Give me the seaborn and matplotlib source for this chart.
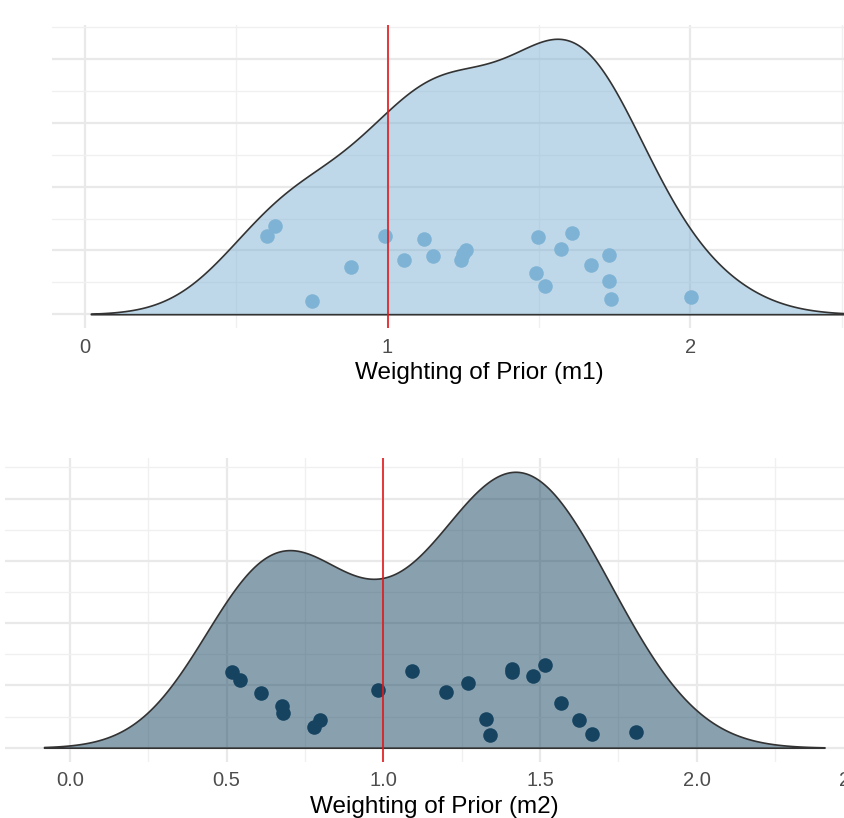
import numpy as np
import pandas as pd
import matplotlib
matplotlib.use("Agg")
import matplotlib.pyplot as plt
import seaborn as sns
from matplotlib.ticker import MultipleLocator

# ---- data ----
m1_weight = [0.602, 0.629, 0.749, 0.878, 0.993, 1.056, 1.121, 1.151, 1.243, 1.248, 1.259,
             1.496, 1.489, 1.519, 1.572, 1.608, 1.673, 1.732, 1.732, 1.738, 2.004]
m1_jitter = [0.246, 0.276, 0.042, 0.149, 0.246, 0.170, 0.237, 0.182, 0.171, 0.190, 0.203,
             0.242, 0.129, 0.089, 0.206, 0.256, 0.154, 0.187, 0.105, 0.047, 0.053]
m2_weight = [0.517, 0.541, 0.608, 0.678, 0.680, 0.780, 0.799, 0.983, 1.090, 1.201, 1.269,
             1.327, 1.341, 1.412, 1.412, 1.477, 1.516, 1.566, 1.623, 1.665, 1.808]
m2_jitter = [0.242, 0.216, 0.176, 0.134, 0.110, 0.068, 0.089, 0.184, 0.247, 0.180, 0.209,
             0.091, 0.041, 0.254, 0.242, 0.231, 0.265, 0.142, 0.089, 0.044, 0.051]
reference_value = 1.0
axis_titles = ["Weighting of Prior (m1)", "Weighting of Prior (m2)"]
panel_colors = ["#7fb3d5", "#154360"]
bandwidths = [0.194, 0.200]
x_major = [1.0, 0.5]

sns.set_theme(style="white")
plt.rcParams['font.family'] = ['Liberation Sans', 'DejaVu Sans']

fig = plt.figure(figsize=(8.45, 8.18), dpi=100)
ax1 = fig.add_axes([52 / 845, 1 - 328 / 818, (906.5 - 52) / 845, 303 / 818])
ax2 = fig.add_axes([5 / 845, 1 - 761.5 / 818, 858.5 / 845, 303.5 / 818])

panels = [
    (ax1, m1_weight, m1_jitter),
    (ax2, m2_weight, m2_jitter),
]

for i, (ax, xs, ys) in enumerate(panels):
    xs = np.asarray(xs)
    df = pd.DataFrame({"w": xs, "j": ys})
    bw_factor = bandwidths[i] / xs.std(ddof=1)
    sns.kdeplot(data=df, x="w", ax=ax, fill=True, bw_method=bw_factor, cut=3,
                gridsize=512, color=panel_colors[i], alpha=0.5,
                edgecolor="#333333", linewidth=1.2, zorder=2)
    verts = ax.collections[0].get_paths()[0].vertices
    x0, x1 = verts[:, 0].min(), verts[:, 0].max()
    ytop = verts[:, 1].max()
    dx = (x1 - x0) * 0.05
    ax.set_xlim(x0 - dx, x1 + dx)
    ax.set_ylim(-0.05 * ytop, 1.05 * ytop)

    sns.scatterplot(data=df, x="w", y="j", ax=ax, s=110, color=panel_colors[i],
                    linewidth=0, zorder=3)
    ax.axvline(reference_value, color="#e41a1c", lw=1.2, zorder=4)

    ax.xaxis.set_major_locator(MultipleLocator(x_major[i]))
    ax.xaxis.set_minor_locator(MultipleLocator(x_major[i] / 2))
    ax.yaxis.set_major_locator(MultipleLocator(0.2))
    ax.yaxis.set_minor_locator(MultipleLocator(0.1))
    ax.set_axisbelow(True)
    ax.grid(which="major", color="#e9e9e9", lw=1.6, zorder=0)
    ax.grid(which="minor", color="#f0f0f0", lw=1.0, zorder=0)
    for s in ax.spines.values():
        s.set_visible(False)
    ax.tick_params(axis="both", which="both", length=0)
    ax.tick_params(axis="x", labelsize=14.5, labelcolor="#4d4d4d", pad=7)
    ax.set_yticklabels([])
    ax.set_ylabel("")
    ax.set_xlabel(axis_titles[i], fontsize=17.5, color="black", labelpad=4)

fig.savefig("out.png", dpi=100)
